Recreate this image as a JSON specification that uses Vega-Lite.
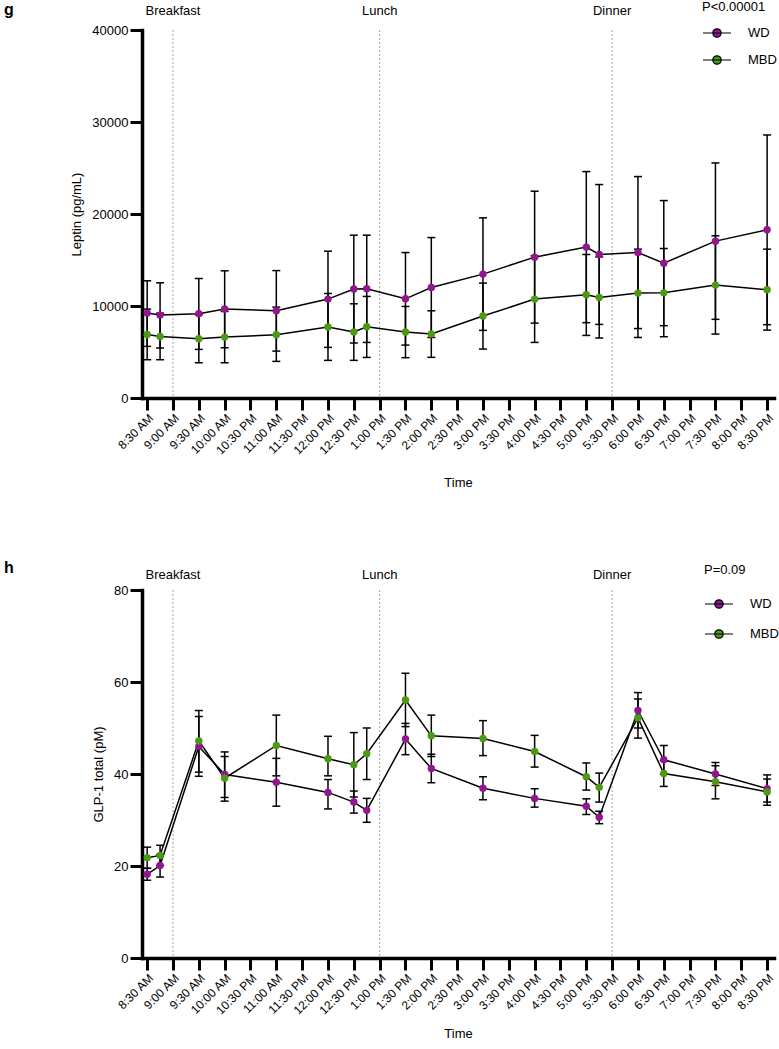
{
  "$schema": "https://vega.github.io/schema/vega-lite/v6.json",
  "background": "white",
  "padding": {"left": 4, "top": 1, "right": 0, "bottom": 0},
  "spacing": 70,
  "resolve": {"scale": {"color": "independent"}},
  "config": {
    "font": "Liberation Sans",
    "view": {"stroke": null},
    "axis": {
      "domainColor": "black", "domainWidth": 3.5, "domainCap": "square",
      "tickColor": "black", "tickWidth": 3, "tickSize": 12,
      "labelColor": "black", "labelFontSize": 13, "labelFont": "Liberation Sans",
      "titleColor": "black", "titleFontSize": 13, "titleFontWeight": "normal", "titleFont": "Liberation Sans",
      "grid": false
    },
    "axisX": {"labelOverlap": false, "labelBound": false, "tickCount": 40},
    "legend": {
      "orient": "none", "padding": 0,
      "titleFontSize": 13, "titleFontWeight": "normal", "titleColor": "black", "titleFont": "Liberation Sans",
      "labelFontSize": 13, "labelColor": "black", "labelFont": "Liberation Sans",
      "labelOffset": 16
    }
  },
  "datasets": {
    "meals": [
      {"min": 30, "meal": "Breakfast"},
      {"min": 270, "meal": "Lunch"},
      {"min": 540, "meal": "Dinner"}
    ],
    "leptin": [
      {"min": 0, "group": "WD", "mean": 9230, "lo": 5610, "hi": 12740},
      {"min": 15, "group": "WD", "mean": 9010, "lo": 5430, "hi": 12520},
      {"min": 60, "group": "WD", "mean": 9160, "lo": 5280, "hi": 12990},
      {"min": 90, "group": "WD", "mean": 9665, "lo": 5460, "hi": 13825},
      {"min": 150, "group": "WD", "mean": 9480, "lo": 5100, "hi": 13850},
      {"min": 210, "group": "WD", "mean": 10750, "lo": 5500, "hi": 15960},
      {"min": 240, "group": "WD", "mean": 11840, "lo": 5980, "hi": 17700},
      {"min": 255, "group": "WD", "mean": 11870, "lo": 6040, "hi": 17700},
      {"min": 300, "group": "WD", "mean": 10780, "lo": 5750, "hi": 15810},
      {"min": 330, "group": "WD", "mean": 12010, "lo": 6580, "hi": 17440},
      {"min": 390, "group": "WD", "mean": 13465, "lo": 7350, "hi": 19580},
      {"min": 450, "group": "WD", "mean": 15310, "lo": 8140, "hi": 22480},
      {"min": 510, "group": "WD", "mean": 16400, "lo": 8190, "hi": 24610},
      {"min": 525, "group": "WD", "mean": 15600, "lo": 8000, "hi": 23200},
      {"min": 570, "group": "WD", "mean": 15810, "lo": 7550, "hi": 24070},
      {"min": 600, "group": "WD", "mean": 14660, "lo": 7860, "hi": 21460},
      {"min": 660, "group": "WD", "mean": 17050, "lo": 8550, "hi": 25550},
      {"min": 720, "group": "WD", "mean": 18280, "lo": 7970, "hi": 28590},
      {"min": 0, "group": "MBD", "mean": 6910, "lo": 4160, "hi": 9660},
      {"min": 15, "group": "MBD", "mean": 6690, "lo": 4160, "hi": 9220},
      {"min": 60, "group": "MBD", "mean": 6440, "lo": 3830, "hi": 9050},
      {"min": 90, "group": "MBD", "mean": 6620, "lo": 3830, "hi": 9410},
      {"min": 150, "group": "MBD", "mean": 6875, "lo": 3980, "hi": 9880},
      {"min": 210, "group": "MBD", "mean": 7710, "lo": 4090, "hi": 11360},
      {"min": 240, "group": "MBD", "mean": 7170, "lo": 4090, "hi": 10240},
      {"min": 255, "group": "MBD", "mean": 7740, "lo": 4410, "hi": 11040},
      {"min": 300, "group": "MBD", "mean": 7170, "lo": 4380, "hi": 9950},
      {"min": 330, "group": "MBD", "mean": 6950, "lo": 4420, "hi": 9480},
      {"min": 390, "group": "MBD", "mean": 8905, "lo": 5320, "hi": 12490},
      {"min": 450, "group": "MBD", "mean": 10750, "lo": 6040, "hi": 15460},
      {"min": 510, "group": "MBD", "mean": 11220, "lo": 6800, "hi": 15600},
      {"min": 525, "group": "MBD", "mean": 10930, "lo": 6520, "hi": 15340},
      {"min": 570, "group": "MBD", "mean": 11400, "lo": 6580, "hi": 16180},
      {"min": 600, "group": "MBD", "mean": 11430, "lo": 6660, "hi": 16250},
      {"min": 660, "group": "MBD", "mean": 12270, "lo": 6950, "hi": 17630},
      {"min": 720, "group": "MBD", "mean": 11760, "lo": 7380, "hi": 16180}
    ],
    "glp": [
      {"min": 0, "group": "WD", "mean": 18.2, "lo": 16.9, "hi": 19.5},
      {"min": 15, "group": "WD", "mean": 20.1, "lo": 17.6, "hi": 22.5},
      {"min": 60, "group": "WD", "mean": 46.0, "lo": 39.5, "hi": 52.5},
      {"min": 90, "group": "WD", "mean": 39.9, "lo": 34.9, "hi": 44.8},
      {"min": 150, "group": "WD", "mean": 38.2, "lo": 33.0, "hi": 43.4},
      {"min": 210, "group": "WD", "mean": 36.0, "lo": 32.4, "hi": 38.8},
      {"min": 240, "group": "WD", "mean": 33.9, "lo": 31.5, "hi": 36.3},
      {"min": 255, "group": "WD", "mean": 32.1, "lo": 29.5, "hi": 34.7},
      {"min": 300, "group": "WD", "mean": 47.6, "lo": 44.2, "hi": 51.0},
      {"min": 330, "group": "WD", "mean": 41.2, "lo": 38.1, "hi": 44.3},
      {"min": 390, "group": "WD", "mean": 36.9, "lo": 34.4, "hi": 39.4},
      {"min": 450, "group": "WD", "mean": 34.7, "lo": 32.8, "hi": 36.8},
      {"min": 510, "group": "WD", "mean": 33.0, "lo": 31.2, "hi": 34.6},
      {"min": 525, "group": "WD", "mean": 30.6, "lo": 29.2, "hi": 31.9},
      {"min": 570, "group": "WD", "mean": 53.8, "lo": 50.0, "hi": 57.7},
      {"min": 600, "group": "WD", "mean": 43.1, "lo": 40.0, "hi": 46.2},
      {"min": 660, "group": "WD", "mean": 40.0, "lo": 37.5, "hi": 42.5},
      {"min": 720, "group": "WD", "mean": 36.8, "lo": 33.9, "hi": 39.8},
      {"min": 0, "group": "MBD", "mean": 21.8, "lo": 19.5, "hi": 24.1},
      {"min": 15, "group": "MBD", "mean": 22.3, "lo": 20.1, "hi": 24.5},
      {"min": 60, "group": "MBD", "mean": 47.2, "lo": 40.4, "hi": 53.8},
      {"min": 90, "group": "MBD", "mean": 39.1, "lo": 34.1, "hi": 43.8},
      {"min": 150, "group": "MBD", "mean": 46.2, "lo": 39.6, "hi": 52.8},
      {"min": 210, "group": "MBD", "mean": 43.3, "lo": 39.6, "hi": 48.2},
      {"min": 240, "group": "MBD", "mean": 42.0, "lo": 35.0, "hi": 49.0},
      {"min": 255, "group": "MBD", "mean": 44.4, "lo": 38.8, "hi": 50.0},
      {"min": 300, "group": "MBD", "mean": 56.1, "lo": 50.3, "hi": 61.9},
      {"min": 330, "group": "MBD", "mean": 48.3, "lo": 43.8, "hi": 52.8},
      {"min": 390, "group": "MBD", "mean": 47.7, "lo": 44.0, "hi": 51.6},
      {"min": 450, "group": "MBD", "mean": 44.9, "lo": 41.5, "hi": 48.4},
      {"min": 510, "group": "MBD", "mean": 39.4, "lo": 36.5, "hi": 42.4},
      {"min": 525, "group": "MBD", "mean": 37.1, "lo": 33.9, "hi": 40.2},
      {"min": 570, "group": "MBD", "mean": 52.2, "lo": 47.8, "hi": 56.3},
      {"min": 600, "group": "MBD", "mean": 40.1, "lo": 37.3, "hi": 42.9},
      {"min": 660, "group": "MBD", "mean": 38.3, "lo": 34.6, "hi": 41.8},
      {"min": 720, "group": "MBD", "mean": 36.1, "lo": 33.2, "hi": 38.9}
    ]
  },
  "vconcat": [
    {
      "width": 632, "height": 368,
      "title": {"text": "g", "anchor": "start", "frame": "group", "dx": -138, "offset": -17, "fontSize": 16, "fontWeight": "bold", "color": "black"},
      "layer": [
        {
          "data": {"name": "meals"},
          "mark": {"type": "rule", "color": "#8a8a8a", "strokeWidth": 0.8, "strokeDash": [2, 2]},
          "encoding": {
            "x": {"field": "min", "type": "quantitative", "title": "Time",
              "scale": {"domain": [-6, 728], "nice": false, "zero": false},
              "axis": {"values": [0,30,60,90,120,150,180,210,240,270,300,330,360,390,420,450,480,510,540,570,600,630,660,690,720],
                "tickCount": 40, "labelAngle": -45, "labelOverlap": false, "labelFontSize": 12, "titlePadding": 20,
                "labelExpr": "['8:30 AM','9:00 AM','9:30 AM','10:00 AM','10:30 PM','11:00 AM','11:30 PM','12:00 PM','12:30 PM','1:00 PM','1:30 PM','2:00 PM','2:30 PM','3:00 PM','3:30 PM','4:00 PM','4:30 PM','5:00 PM','5:30 PM','6:00 PM','6:30 PM','7:00 PM','7:30 PM','8:00 PM','8:30 PM'][round(datum.value/30)]"}}
          }
        },
        {
          "data": {"name": "meals"},
          "mark": {"type": "text", "fontSize": 13, "baseline": "alphabetic", "dy": -15, "color": "black"},
          "encoding": {
            "x": {"field": "min", "type": "quantitative", "title": "Time"},
            "y": {"datum": 40000, "type": "quantitative", "title": "Leptin (pg/mL)"},
            "text": {"field": "meal"}
          }
        },
        {
          "data": {"name": "leptin"},
          "mark": {"type": "rule", "color": "black", "strokeWidth": 1.5},
          "encoding": {
            "x": {"field": "min", "type": "quantitative", "title": "Time"},
            "y": {"field": "lo", "type": "quantitative", "title": "Leptin (pg/mL)",
              "scale": {"domain": [0, 40000], "nice": false},
              "axis": {"values": [0, 10000, 20000, 30000, 40000], "format": "d", "titlePadding": 8}},
            "y2": {"field": "hi"}
          }
        },
        {
          "data": {"name": "leptin"},
          "mark": {"type": "tick", "orient": "horizontal", "color": "black", "thickness": 1.5, "size": 8, "opacity": 1},
          "encoding": {
            "x": {"field": "min", "type": "quantitative", "title": "Time"},
            "y": {"field": "lo", "type": "quantitative", "title": "Leptin (pg/mL)"}
          }
        },
        {
          "data": {"name": "leptin"},
          "mark": {"type": "tick", "orient": "horizontal", "color": "black", "thickness": 1.5, "size": 8, "opacity": 1},
          "encoding": {
            "x": {"field": "min", "type": "quantitative", "title": "Time"},
            "y": {"field": "hi", "type": "quantitative", "title": "Leptin (pg/mL)"}
          }
        },
        {
          "data": {"name": "leptin"},
          "mark": {"type": "line", "color": "black", "strokeWidth": 1.5},
          "encoding": {
            "x": {"field": "min", "type": "quantitative", "title": "Time"},
            "y": {"field": "mean", "type": "quantitative", "title": "Leptin (pg/mL)"},
            "detail": {"field": "group"}
          }
        },
        {
          "data": {"name": "leptin"},
          "mark": {"type": "point", "filled": true, "opacity": 1, "size": 55},
          "encoding": {
            "x": {"field": "min", "type": "quantitative", "title": "Time"},
            "y": {"field": "mean", "type": "quantitative", "title": "Leptin (pg/mL)"},
            "color": {"field": "group", "type": "nominal",
              "scale": {"domain": ["WD", "MBD"], "range": ["#93168f", "#4c9a14"]},
              "legend": {"title": "P<0.00001", "legendX": 560, "legendY": -29, "titlePadding": 4, "rowPadding": 5,
                "symbolType": "M-1,0L1,0M-0.3,0A0.3,0.3,0,1,1,0.3,0A0.3,0.3,0,1,1,-0.3,0Z", "symbolSize": 784,
                "symbolStrokeColor": "black", "symbolStrokeWidth": 1.2,
                "encode": {"symbols": {"update": {"shape": {"value": "M-1,0L1,0M-0.3,0A0.3,0.3,0,1,1,0.3,0A0.3,0.3,0,1,1,-0.3,0Z"}, "size": {"value": 784}, "stroke": {"value": "black"}, "strokeWidth": {"value": 1.2}, "opacity": {"value": 1}}}}}}
          }
        }
      ]
    },
    {
      "width": 632, "height": 368,
      "title": {"text": "h", "anchor": "start", "frame": "group", "dx": -138, "offset": -12, "fontSize": 16, "fontWeight": "bold", "color": "black"},
      "layer": [
        {
          "data": {"name": "meals"},
          "mark": {"type": "rule", "color": "#8a8a8a", "strokeWidth": 0.8, "strokeDash": [2, 2]},
          "encoding": {
            "x": {"field": "min", "type": "quantitative", "title": "Time",
              "scale": {"domain": [-6, 728], "nice": false, "zero": false},
              "axis": {"values": [0,30,60,90,120,150,180,210,240,270,300,330,360,390,420,450,480,510,540,570,600,630,660,690,720],
                "tickCount": 40, "labelAngle": -45, "labelOverlap": false, "labelFontSize": 12, "titlePadding": 11,
                "labelExpr": "['8:30 AM','9:00 AM','9:30 AM','10:00 AM','10:30 PM','11:00 AM','11:30 PM','12:00 PM','12:30 PM','1:00 PM','1:30 PM','2:00 PM','2:30 PM','3:00 PM','3:30 PM','4:00 PM','4:30 PM','5:00 PM','5:30 PM','6:00 PM','6:30 PM','7:00 PM','7:30 PM','8:00 PM','8:30 PM'][round(datum.value/30)]"}}
          }
        },
        {
          "data": {"name": "meals"},
          "mark": {"type": "text", "fontSize": 13, "baseline": "alphabetic", "dy": -11, "color": "black"},
          "encoding": {
            "x": {"field": "min", "type": "quantitative", "title": "Time"},
            "y": {"datum": 80, "type": "quantitative", "title": "GLP-1 total (pM)"},
            "text": {"field": "meal"}
          }
        },
        {
          "data": {"name": "glp"},
          "mark": {"type": "rule", "color": "black", "strokeWidth": 1.5},
          "encoding": {
            "x": {"field": "min", "type": "quantitative", "title": "Time"},
            "y": {"field": "lo", "type": "quantitative", "title": "GLP-1 total (pM)",
              "scale": {"domain": [0, 80], "nice": false},
              "axis": {"values": [0, 20, 40, 60, 80], "format": "d", "titlePadding": 8}},
            "y2": {"field": "hi"}
          }
        },
        {
          "data": {"name": "glp"},
          "mark": {"type": "tick", "orient": "horizontal", "color": "black", "thickness": 1.5, "size": 8, "opacity": 1},
          "encoding": {
            "x": {"field": "min", "type": "quantitative", "title": "Time"},
            "y": {"field": "lo", "type": "quantitative", "title": "GLP-1 total (pM)"}
          }
        },
        {
          "data": {"name": "glp"},
          "mark": {"type": "tick", "orient": "horizontal", "color": "black", "thickness": 1.5, "size": 8, "opacity": 1},
          "encoding": {
            "x": {"field": "min", "type": "quantitative", "title": "Time"},
            "y": {"field": "hi", "type": "quantitative", "title": "GLP-1 total (pM)"}
          }
        },
        {
          "data": {"name": "glp"},
          "mark": {"type": "line", "color": "black", "strokeWidth": 1.5},
          "encoding": {
            "x": {"field": "min", "type": "quantitative", "title": "Time"},
            "y": {"field": "mean", "type": "quantitative", "title": "GLP-1 total (pM)"},
            "detail": {"field": "group"}
          }
        },
        {
          "data": {"name": "glp"},
          "mark": {"type": "point", "filled": true, "opacity": 1, "size": 55},
          "encoding": {
            "x": {"field": "min", "type": "quantitative", "title": "Time"},
            "y": {"field": "mean", "type": "quantitative", "title": "GLP-1 total (pM)"},
            "color": {"field": "group", "type": "nominal",
              "scale": {"domain": ["WD", "MBD"], "range": ["#93168f", "#4c9a14"]},
              "legend": {"title": "P=0.09", "legendX": 562, "legendY": -26, "titlePadding": 12, "rowPadding": 8,
                "symbolType": "M-1,0L1,0M-0.3,0A0.3,0.3,0,1,1,0.3,0A0.3,0.3,0,1,1,-0.3,0Z", "symbolSize": 784,
                "symbolStrokeColor": "black", "symbolStrokeWidth": 1.2,
                "encode": {"symbols": {"update": {"shape": {"value": "M-1,0L1,0M-0.3,0A0.3,0.3,0,1,1,0.3,0A0.3,0.3,0,1,1,-0.3,0Z"}, "size": {"value": 784}, "stroke": {"value": "black"}, "strokeWidth": {"value": 1.2}, "opacity": {"value": 1}}}}}}
          }
        }
      ]
    }
  ]
}
